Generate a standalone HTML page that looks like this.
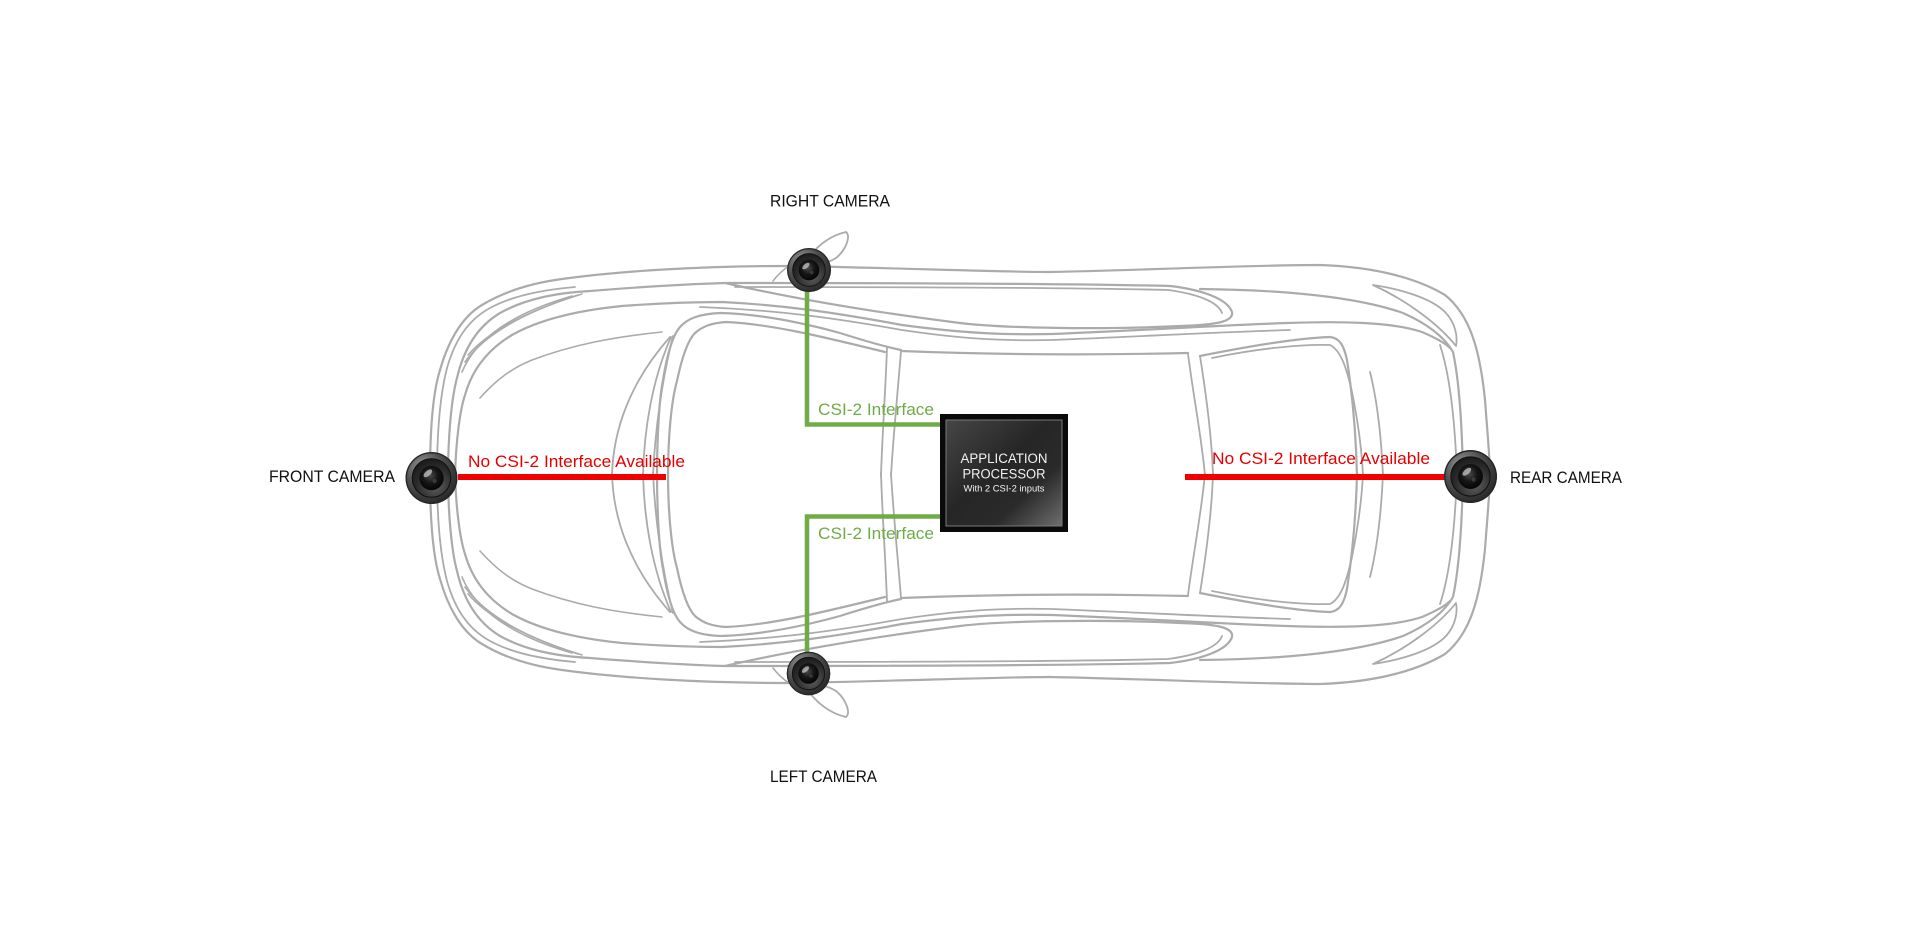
<!DOCTYPE html>
<html>
<head>
<meta charset="utf-8">
<style>
html,body{margin:0;padding:0;background:#fff;width:1920px;height:950px;overflow:hidden}
svg{display:block}
</style>
</head>
<body>
<svg width="1920" height="950" viewBox="0 0 1920 950" xmlns="http://www.w3.org/2000/svg">
<defs>
  <radialGradient id="camOuter" cx="0.35" cy="0.3" r="0.85">
    <stop offset="0" stop-color="#9c9c9c"/>
    <stop offset="0.45" stop-color="#4d4d4d"/>
    <stop offset="1" stop-color="#1c1c1c"/>
  </radialGradient>
  <radialGradient id="camMid" cx="0.6" cy="0.7" r="0.8">
    <stop offset="0" stop-color="#5e5e5e"/>
    <stop offset="0.6" stop-color="#2a2a2a"/>
    <stop offset="1" stop-color="#141414"/>
  </radialGradient>
  <radialGradient id="camLens" cx="0.45" cy="0.4" r="0.7">
    <stop offset="0" stop-color="#4a4a4a"/>
    <stop offset="0.45" stop-color="#151515"/>
    <stop offset="1" stop-color="#000"/>
  </radialGradient>
  <linearGradient id="procGrad" x1="0" y1="0" x2="1" y2="1">
    <stop offset="0" stop-color="#464646"/>
    <stop offset="0.45" stop-color="#262626"/>
    <stop offset="0.7" stop-color="#2a2a2a"/>
    <stop offset="1" stop-color="#6e6e6e"/>
  </linearGradient>
  <g id="cam">
    <circle r="1" fill="url(#camOuter)"/>
    <circle r="0.97" fill="none" stroke="#262626" stroke-width="0.05"/>
    <circle r="0.76" fill="url(#camMid)"/>
    <circle r="0.74" fill="none" stroke="#111" stroke-width="0.04"/>
    <circle r="0.47" fill="url(#camLens)"/>
    <ellipse cx="-0.14" cy="-0.18" rx="0.2" ry="0.1" fill="#fff" opacity="0.55" transform="rotate(-40 -0.14 -0.18)"/>
    <circle cx="0.12" cy="0.12" r="0.08" fill="#777" opacity="0.35"/>
  </g>
  <g id="half" fill="none" stroke="#ababab" stroke-width="2.2" stroke-linecap="round" stroke-linejoin="round">
    <!-- outer body -->
    <path d="M430,476 C430,430 433,392 440,370 C447,345 460,318 482,305 C505,291 532,283 562,279 C620,271 700,266 790,266 C900,268 1000,272 1050,272 C1150,270 1250,265 1320,265 C1380,267 1420,280 1445,295 C1470,315 1480,350 1485,400 C1488,440 1490,460 1490,476"/>
    <path d="M437,476 C437,432 440,395 447,368 C455,340 468,320 490,308 C510,297 540,290 575,287" stroke-width="1.8"/>
    <!-- belt line into side window -->
    <path d="M448,476 C448,440 451,400 457,378 C463,352 475,328 500,313 C525,299 555,293 590,291 C640,287 690,284 725,283"/>
    <path d="M725,283 C850,283 1050,283 1170,286 C1205,290 1228,300 1232,312 C1234,322 1215,325 1180,326 C1100,330 1000,328 960,323 C880,313 800,300 725,283 Z"/>
    <path d="M735,287 C850,287 1050,287 1168,290 C1198,294 1218,302 1222,313" stroke-width="1.8"/>
    <path d="M1200,289 C1290,290 1360,298 1403,313 C1430,325 1445,338 1453,352 C1459,380 1462,420 1463,476"/>
    <path d="M1440,345 C1450,375 1455,420 1457,476" stroke-width="1.8"/>
    <!-- front fan lines -->
    <path d="M462,372 C475,340 510,314 572,296" stroke-width="1.6"/>
    <path d="M465,362 C485,334 525,312 578,295" stroke-width="1.6"/>
    <path d="M468,355 C490,330 530,310 582,294" stroke-width="1.6"/>
    <!-- greenhouse rail -->
    <path d="M455,476 C456,440 460,410 465,395 C472,370 487,350 512,335 C542,318 582,310 622,306 C662,303 700,302 722,302 C782,305 832,312 902,325 C962,333 1002,335 1052,334 C1152,330 1202,326 1287,323 C1342,321 1392,322 1422,332 C1436,338 1445,343 1450,348"/>
    <path d="M700,307 C780,310 840,319 902,330 C962,339 1002,341 1052,340 C1150,336 1220,332 1290,330" stroke-width="1.8"/>
    <!-- hood crease -->
    <path d="M480,398 C496,380 512,368 532,360 C572,345 612,337 662,332" stroke-width="1.6"/>
    <!-- windshield frame -->
    <path d="M657,476 C657,440 659,400 663,380 C667,355 672,336 680,327 C688,318 700,314 720,313 C760,314 800,322 840,333 C862,340 882,346 901,350"/>
    <path d="M668,476 C668,440 671,402 677,381 C682,357 688,340 695,333 C703,326 712,323 726,322 C770,324 820,336 885,352"/>
    <path d="M612,476 C613,430 630,382 670,337" stroke-width="1.8"/>
    <path d="M643,476 C644,430 652,380 671,337" stroke-width="1.8"/>
    <path d="M653,476 C655,430 662,380 673,336" stroke-width="1.8"/>
    <!-- roof -->
    <path d="M887,348 C885,400 882,440 881,476" stroke-width="1.8"/>
    <path d="M901,351 C897,400 893,440 891,476" stroke-width="1.8"/>
    <path d="M901,351 C1000,355 1100,355 1188,353"/>
    <path d="M1188,354 C1194,400 1202,440 1205,476" stroke-width="1.8"/>
    <path d="M1200,356 C1207,400 1212,440 1213,476" stroke-width="1.8"/>
    <!-- rear window -->
    <path d="M1200,356 C1250,346 1300,338 1330,337 C1340,338 1344,346 1347,360 C1352,392 1356,432 1357,476"/>
    <path d="M1212,358 C1260,348 1305,344 1330,345 C1340,350 1346,365 1352,392 C1358,422 1362,452 1363,476" stroke-width="1.8"/>
    <path d="M1370,372 C1376,396 1381,430 1383,476" stroke-width="1.8"/>
    <!-- rear leaf -->
    <path d="M1373,285 C1400,289 1432,298 1446,313 C1455,323 1458,336 1456,346 C1440,326 1410,302 1373,285 Z" stroke-width="1.8"/>
    <!-- mirror -->
    <path d="M805,262 C815,248 828,236 846,232 C851,236 846,250 836,258 C828,263 818,265 808,267" stroke-width="1.8"/>
    <path d="M773,281 C780,272 788,265 798,262" stroke-width="1.6"/>
  </g>
</defs>

<rect width="1920" height="950" fill="#fff"/>

<!-- car -->
<use href="#half"/>
<use href="#half" transform="translate(0,949) scale(1,-1)"/>

<!-- green connectors -->
<g fill="none" stroke="#6fac46" stroke-width="4.5" stroke-linejoin="miter">
  <polyline points="807,288 807,424.5 942,424.5"/>
  <polyline points="942,516.5 807,516.5 807,656"/>
</g>

<!-- red lines -->
<rect x="458" y="474" width="208" height="6" fill="#f20000"/>
<rect x="1185" y="474" width="262" height="6" fill="#f20000"/>

<!-- processor -->
<rect x="940" y="414" width="128" height="118" fill="#0a0a0a"/>
<rect x="946" y="420" width="116" height="106" fill="url(#procGrad)" stroke="#7a7a7a" stroke-width="1"/>
<g font-family="'Liberation Sans', Arial, sans-serif" fill="#f2f2f2" text-anchor="middle">
  <text x="1004" y="463" font-size="13.5" textLength="87" lengthAdjust="spacingAndGlyphs">APPLICATION</text>
  <text x="1004" y="478.5" font-size="13.5" textLength="83" lengthAdjust="spacingAndGlyphs">PROCESSOR</text>
  <text x="1004" y="491.5" font-size="9" textLength="81" lengthAdjust="spacingAndGlyphs">With 2 CSI-2 inputs</text>
</g>

<!-- cameras -->
<use href="#cam" transform="translate(431.5,478) scale(26)"/>
<use href="#cam" transform="translate(1470.5,476.5) scale(26.5)"/>
<use href="#cam" transform="translate(809,270) scale(22)"/>
<use href="#cam" transform="translate(808.5,673.5) scale(21.8)"/>

<!-- labels -->
<g font-family="'Liberation Sans', Arial, sans-serif" font-size="16.5" fill="#111">
  <text x="770" y="206.5" textLength="120" lengthAdjust="spacingAndGlyphs">RIGHT CAMERA</text>
  <text x="770" y="782" textLength="107" lengthAdjust="spacingAndGlyphs">LEFT CAMERA</text>
  <text x="269" y="482" textLength="126" lengthAdjust="spacingAndGlyphs">FRONT CAMERA</text>
  <text x="1510" y="483" textLength="112" lengthAdjust="spacingAndGlyphs">REAR CAMERA</text>
</g>
<g font-family="'Liberation Sans', Arial, sans-serif" font-size="17" fill="#e60000">
  <text x="468" y="467" textLength="217" lengthAdjust="spacingAndGlyphs">No CSI-2 Interface Available</text>
  <text x="1212" y="464" textLength="218" lengthAdjust="spacingAndGlyphs">No CSI-2 Interface Available</text>
</g>
<g font-family="'Liberation Sans', Arial, sans-serif" font-size="17" fill="#6fac46">
  <text x="818" y="415" textLength="116" lengthAdjust="spacingAndGlyphs">CSI-2 Interface</text>
  <text x="818" y="539" textLength="116" lengthAdjust="spacingAndGlyphs">CSI-2 Interface</text>
</g>
</svg>
</body>
</html>
